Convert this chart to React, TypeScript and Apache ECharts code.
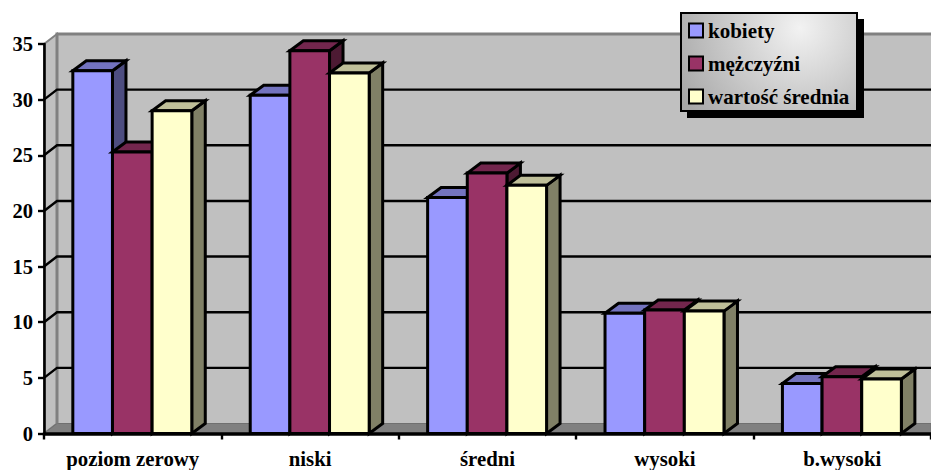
import React, { useEffect, useRef } from "react";
import * as echarts from "echarts";

const categories = ["poziom zerowy", "niski", "średni", "wysoki", "b.wysoki"];
const kobiety = [32.6, 30.4, 21.2, 10.8, 4.5];
const mezczyzni = [25.3, 34.4, 23.4, 11.1, 5.1];
const srednia = [29.0, 32.4, 22.3, 11.0, 4.9];
const gridTicks = [5, 10, 15, 20, 25, 30];

const FONT = '"Liberation Serif", "Times New Roman", serif';
const DX = 13;
const DY = 10;

function barSeries(name: string, values: number[], index: number, front: string, top: string, side: string) {
  return {
    type: "custom",
    name,
    z: 3,
    clip: false,
    itemStyle: { color: front },
    encode: { x: 0, y: 1 },
    data: values.map((v, i) => [i, v]),
    renderItem: (_p: any, api: any) => {
      const cat = api.value(0);
      const c = api.coord([cat, api.value(1)]);
      const base = api.coord([cat, 0]);
      const w = api.size([1, 0])[0] * 0.2235;
      const x0 = c[0] - 0.4 - 1.5 * w + index * w;
      const x1 = x0 + w;
      const yT = c[1];
      const yB = base[1];
      const dx = 13.5;
      const dy = 10;
      const stroke = { stroke: "#000", lineWidth: 3, lineJoin: "miter" };
      return {
        type: "group",
        children: [
          { type: "polygon", shape: { points: [[x1, yT], [x1 + dx, yT - dy], [x1 + dx, yB - dy], [x1, yB]] }, style: { fill: side, ...stroke } },
          { type: "polygon", shape: { points: [[x0, yT], [x0 + dx, yT - dy], [x1 + dx, yT - dy], [x1, yT]] }, style: { fill: top, ...stroke } },
          { type: "rect", shape: { x: x0, y: yT, width: w, height: yB - yT }, style: { fill: front, ...stroke } },
        ],
      };
    },
  };
}

export default function App() {
  const ref = useRef<HTMLDivElement>(null);
  useEffect(() => {
    const chart = echarts.init(ref.current!, undefined, { renderer: "svg" });
    const wallSeries = {
      type: "custom",
      name: "wall",
      z: 1,
      clip: false,
      silent: true,
      encode: { x: 0, y: 1 },
      data: [[0, 0]],
      renderItem: (p: any, _api: any) => {
        const s = p.coordSys;
        const l = s.x, r = s.x + s.width, t = s.y, b = s.y + s.height;
        return {
          type: "group",
          children: [
            { type: "polygon", shape: { points: [[l + DX, t - DY], [r, t - DY], [r, b - DY], [l + DX, b - DY]] }, style: { fill: "#c0c0c0" } },
            { type: "polygon", shape: { points: [[l, t], [l + DX, t - DY], [l + DX, b - DY], [l, b]] }, style: { fill: "#c0c0c0", stroke: "#808080", lineWidth: 2 } },
            { type: "polygon", shape: { points: [[l, b], [l + DX, b - DY], [r, b - DY], [r, b]] }, style: { fill: "#808080", stroke: "#707070", lineWidth: 1 } },
            { type: "polyline", shape: { points: [[l + DX, b - DY], [l + DX, t - DY], [r, t - DY]] }, style: { fill: "none", stroke: "#808080", lineWidth: 3 } },
          ],
        };
      },
    };
    const gridSeries = {
      type: "custom",
      name: "gridlines",
      z: 2,
      clip: false,
      silent: true,
      encode: { x: 0, y: 1 },
      data: gridTicks.map((v) => [0, v]),
      renderItem: (p: any, api: any) => {
        const s = p.coordSys;
        const y = api.coord([0, api.value(1)])[1];
        return {
          type: "polyline",
          shape: { points: [[s.x, y], [s.x + DX, y - DY], [s.x + s.width, y - DY]] },
          style: { fill: "none", stroke: "#000", lineWidth: 2.4 },
        };
      },
    };
    chart.setOption({
      animation: false,
      backgroundColor: "#ffffff",
      grid: { left: 44, right: 0, top: 44, bottom: 36.5 },
      xAxis: {
        type: "category",
        data: categories,
        z: 5,
        axisLine: { lineStyle: { color: "#000", width: 3.5 } },
        axisTick: { show: true, length: 6, alignWithLabel: false, lineStyle: { color: "#000", width: 2.4 } },
        axisLabel: { color: "#000", fontFamily: FONT, fontWeight: "bold", fontSize: 20.8, margin: 14 },
      },
      yAxis: {
        type: "value",
        min: 0,
        max: 35,
        interval: 5,
        z: 5,
        splitLine: { show: false },
        axisLine: { show: true, lineStyle: { color: "#000", width: 2.6 } },
        axisTick: { show: true, length: 6, lineStyle: { color: "#000", width: 2.4 } },
        axisLabel: { color: "#000", fontFamily: FONT, fontWeight: "bold", fontSize: 20.5, margin: 11 },
      },
      legend: {
        z: 10,
        left: 688,
        top: 20,
        padding: 0,
        orient: "vertical",
        icon: "rect",
        itemWidth: 14,
        itemHeight: 14,
        itemGap: 12,
        data: ["kobiety", "mężczyźni", "wartość średnia"],
        selectedMode: false,
        itemStyle: { borderColor: "#000", borderWidth: 2 },
        textStyle: { color: "#000", fontFamily: FONT, fontWeight: "bold", fontSize: 21 },
      },
      graphic: [
        { type: "rect", z: 8, silent: true, shape: { x: 687, y: 19, width: 177, height: 99 }, style: { fill: "#000" } },
        {
          type: "rect",
          z: 9,
          silent: true,
          shape: { x: 681, y: 13, width: 176, height: 98 },
          style: {
            fill: new echarts.graphic.RadialGradient(800, 28, 135, [
              { offset: 0, color: "#f2f2f2" },
              { offset: 1, color: "#a8a8a8" },
            ], true),
            stroke: "#000",
            lineWidth: 2,
          },
        },
      ],
      series: [
        wallSeries,
        gridSeries,
        barSeries("kobiety", kobiety, 0, "#9999ff", "#7373bf", "#4d4d80"),
        barSeries("mężczyźni", mezczyzni, 1, "#993366", "#73264d", "#4d1a33"),
        barSeries("wartość średnia", srednia, 2, "#ffffcc", "#bfbf99", "#808066"),
      ],
    });
    return () => chart.dispose();
  }, []);
  return <div ref={ref} style={{ position: "fixed", left: 0, top: 0, width: 931, height: 470 }} />;
}
